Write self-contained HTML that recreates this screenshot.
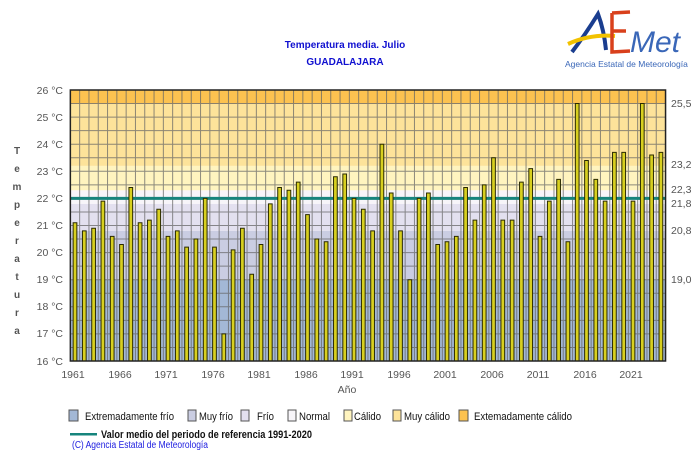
<!DOCTYPE html>
<html><head><meta charset="utf-8"><style>
body{margin:0;background:#fff;}
svg{display:block;font-family:"Liberation Sans",sans-serif;}
</style></head><body>
<svg width="700" height="451" viewBox="0 0 700 451" xmlns="http://www.w3.org/2000/svg">
<rect width="700" height="451" fill="#fff"/>
<text x="345" y="48" text-anchor="middle" font-size="10" font-weight="bold" fill="#1010d0">Temperatura media. Julio</text>
<text x="345" y="65" text-anchor="middle" font-size="10" font-weight="bold" fill="#1010d0">GUADALAJARA</text>
<!-- logo -->
<path d="M572 52 Q585 35 598 14 Q604 30 606 50" fill="none" stroke="#1a3d8f" stroke-width="4"/>
<path d="M568 44 Q590 34 615 36" fill="none" stroke="#f2c200" stroke-width="4"/>
<path d="M612 13 L630 12 M612 13 L612 52 L630 51 M612 31 L626 31" fill="none" stroke="#d9401c" stroke-width="3.5"/>
<text x="630" y="52" font-size="30" fill="#3a67b8" font-style="italic">Met</text>
<text x="565" y="67" font-size="8.5" fill="#3a67b8">Agencia Estatal de Meteorología</text>
<g transform="translate(75,361) scale(9.3,-27.1)">
<rect x="-0.5" y="0" width="64" height="3" fill="#a3b8d6"/>
<rect x="-0.5" y="3" width="64" height="1.8" fill="#cacde2"/>
<rect x="-0.5" y="4.8" width="64" height="1" fill="#e3e0ef"/>
<rect x="-0.5" y="5.8" width="64" height="0.5" fill="#f7f5f9"/>
<rect x="-0.5" y="6.3" width="64" height="0.9" fill="#fff4bf"/>
<rect x="-0.5" y="7.2" width="64" height="2.3" fill="#fde39a"/>
<rect x="-0.5" y="9.5" width="64" height="0.5" fill="#fcc250"/>
<g stroke="#666" stroke-width="1" opacity="0.75">
<path vector-effect="non-scaling-stroke" d="M-0.5 0.5H63.5M-0.5 1H63.5M-0.5 1.5H63.5M-0.5 2H63.5M-0.5 2.5H63.5M-0.5 3H63.5M-0.5 3.5H63.5M-0.5 4H63.5M-0.5 4.5H63.5M-0.5 5H63.5M-0.5 5.5H63.5M-0.5 6H63.5M-0.5 6.5H63.5M-0.5 7H63.5M-0.5 7.5H63.5M-0.5 8H63.5M-0.5 8.5H63.5M-0.5 9H63.5M-0.5 9.5H63.5"/>
<path vector-effect="non-scaling-stroke" d="M0.5 0V10M1.5 0V10M2.5 0V10M3.5 0V10M4.5 0V10M5.5 0V10M6.5 0V10M7.5 0V10M8.5 0V10M9.5 0V10M10.5 0V10M11.5 0V10M12.5 0V10M13.5 0V10M14.5 0V10M15.5 0V10M16.5 0V10M17.5 0V10M18.5 0V10M19.5 0V10M20.5 0V10M21.5 0V10M22.5 0V10M23.5 0V10M24.5 0V10M25.5 0V10M26.5 0V10M27.5 0V10M28.5 0V10M29.5 0V10M30.5 0V10M31.5 0V10M32.5 0V10M33.5 0V10M34.5 0V10M35.5 0V10M36.5 0V10M37.5 0V10M38.5 0V10M39.5 0V10M40.5 0V10M41.5 0V10M42.5 0V10M43.5 0V10M44.5 0V10M45.5 0V10M46.5 0V10M47.5 0V10M48.5 0V10M49.5 0V10M50.5 0V10M51.5 0V10M52.5 0V10M53.5 0V10M54.5 0V10M55.5 0V10M56.5 0V10M57.5 0V10M58.5 0V10M59.5 0V10M60.5 0V10M61.5 0V10M62.5 0V10"/>
</g>
<path d="M-0.5 6H63.5" stroke="#16847c" stroke-width="3" vector-effect="non-scaling-stroke"/>
<g fill="#d8d020" stroke="#2a2a00" stroke-width="1">
<rect vector-effect="non-scaling-stroke" x="-0.2" width="0.4" y="0" height="5.1"/>
<rect vector-effect="non-scaling-stroke" x="0.8" width="0.4" y="0" height="4.8"/>
<rect vector-effect="non-scaling-stroke" x="1.8" width="0.4" y="0" height="4.9"/>
<rect vector-effect="non-scaling-stroke" x="2.8" width="0.4" y="0" height="5.9"/>
<rect vector-effect="non-scaling-stroke" x="3.8" width="0.4" y="0" height="4.6"/>
<rect vector-effect="non-scaling-stroke" x="4.8" width="0.4" y="0" height="4.3"/>
<rect vector-effect="non-scaling-stroke" x="5.8" width="0.4" y="0" height="6.4"/>
<rect vector-effect="non-scaling-stroke" x="6.8" width="0.4" y="0" height="5.1"/>
<rect vector-effect="non-scaling-stroke" x="7.8" width="0.4" y="0" height="5.2"/>
<rect vector-effect="non-scaling-stroke" x="8.8" width="0.4" y="0" height="5.6"/>
<rect vector-effect="non-scaling-stroke" x="9.8" width="0.4" y="0" height="4.6"/>
<rect vector-effect="non-scaling-stroke" x="10.8" width="0.4" y="0" height="4.8"/>
<rect vector-effect="non-scaling-stroke" x="11.8" width="0.4" y="0" height="4.2"/>
<rect vector-effect="non-scaling-stroke" x="12.8" width="0.4" y="0" height="4.5"/>
<rect vector-effect="non-scaling-stroke" x="13.8" width="0.4" y="0" height="6.0"/>
<rect vector-effect="non-scaling-stroke" x="14.8" width="0.4" y="0" height="4.2"/>
<rect vector-effect="non-scaling-stroke" x="15.8" width="0.4" y="0" height="1.0"/>
<rect vector-effect="non-scaling-stroke" x="16.8" width="0.4" y="0" height="4.1"/>
<rect vector-effect="non-scaling-stroke" x="17.8" width="0.4" y="0" height="4.9"/>
<rect vector-effect="non-scaling-stroke" x="18.8" width="0.4" y="0" height="3.2"/>
<rect vector-effect="non-scaling-stroke" x="19.8" width="0.4" y="0" height="4.3"/>
<rect vector-effect="non-scaling-stroke" x="20.8" width="0.4" y="0" height="5.8"/>
<rect vector-effect="non-scaling-stroke" x="21.8" width="0.4" y="0" height="6.4"/>
<rect vector-effect="non-scaling-stroke" x="22.8" width="0.4" y="0" height="6.3"/>
<rect vector-effect="non-scaling-stroke" x="23.8" width="0.4" y="0" height="6.6"/>
<rect vector-effect="non-scaling-stroke" x="24.8" width="0.4" y="0" height="5.4"/>
<rect vector-effect="non-scaling-stroke" x="25.8" width="0.4" y="0" height="4.5"/>
<rect vector-effect="non-scaling-stroke" x="26.8" width="0.4" y="0" height="4.4"/>
<rect vector-effect="non-scaling-stroke" x="27.8" width="0.4" y="0" height="6.8"/>
<rect vector-effect="non-scaling-stroke" x="28.8" width="0.4" y="0" height="6.9"/>
<rect vector-effect="non-scaling-stroke" x="29.8" width="0.4" y="0" height="6.0"/>
<rect vector-effect="non-scaling-stroke" x="30.8" width="0.4" y="0" height="5.6"/>
<rect vector-effect="non-scaling-stroke" x="31.8" width="0.4" y="0" height="4.8"/>
<rect vector-effect="non-scaling-stroke" x="32.8" width="0.4" y="0" height="8.0"/>
<rect vector-effect="non-scaling-stroke" x="33.8" width="0.4" y="0" height="6.2"/>
<rect vector-effect="non-scaling-stroke" x="34.8" width="0.4" y="0" height="4.8"/>
<rect vector-effect="non-scaling-stroke" x="35.8" width="0.4" y="0" height="3.0"/>
<rect vector-effect="non-scaling-stroke" x="36.8" width="0.4" y="0" height="6.0"/>
<rect vector-effect="non-scaling-stroke" x="37.8" width="0.4" y="0" height="6.2"/>
<rect vector-effect="non-scaling-stroke" x="38.8" width="0.4" y="0" height="4.3"/>
<rect vector-effect="non-scaling-stroke" x="39.8" width="0.4" y="0" height="4.4"/>
<rect vector-effect="non-scaling-stroke" x="40.8" width="0.4" y="0" height="4.6"/>
<rect vector-effect="non-scaling-stroke" x="41.8" width="0.4" y="0" height="6.4"/>
<rect vector-effect="non-scaling-stroke" x="42.8" width="0.4" y="0" height="5.2"/>
<rect vector-effect="non-scaling-stroke" x="43.8" width="0.4" y="0" height="6.5"/>
<rect vector-effect="non-scaling-stroke" x="44.8" width="0.4" y="0" height="7.5"/>
<rect vector-effect="non-scaling-stroke" x="45.8" width="0.4" y="0" height="5.2"/>
<rect vector-effect="non-scaling-stroke" x="46.8" width="0.4" y="0" height="5.2"/>
<rect vector-effect="non-scaling-stroke" x="47.8" width="0.4" y="0" height="6.6"/>
<rect vector-effect="non-scaling-stroke" x="48.8" width="0.4" y="0" height="7.1"/>
<rect vector-effect="non-scaling-stroke" x="49.8" width="0.4" y="0" height="4.6"/>
<rect vector-effect="non-scaling-stroke" x="50.8" width="0.4" y="0" height="5.9"/>
<rect vector-effect="non-scaling-stroke" x="51.8" width="0.4" y="0" height="6.7"/>
<rect vector-effect="non-scaling-stroke" x="52.8" width="0.4" y="0" height="4.4"/>
<rect vector-effect="non-scaling-stroke" x="53.8" width="0.4" y="0" height="9.5"/>
<rect vector-effect="non-scaling-stroke" x="54.8" width="0.4" y="0" height="7.4"/>
<rect vector-effect="non-scaling-stroke" x="55.8" width="0.4" y="0" height="6.7"/>
<rect vector-effect="non-scaling-stroke" x="56.8" width="0.4" y="0" height="5.9"/>
<rect vector-effect="non-scaling-stroke" x="57.8" width="0.4" y="0" height="7.7"/>
<rect vector-effect="non-scaling-stroke" x="58.8" width="0.4" y="0" height="7.7"/>
<rect vector-effect="non-scaling-stroke" x="59.8" width="0.4" y="0" height="5.9"/>
<rect vector-effect="non-scaling-stroke" x="60.8" width="0.4" y="0" height="9.5"/>
<rect vector-effect="non-scaling-stroke" x="61.8" width="0.4" y="0" height="7.6"/>
<rect vector-effect="non-scaling-stroke" x="62.8" width="0.4" y="0" height="7.7"/>
</g>
<rect x="-0.5" y="0" width="64" height="10" fill="none" stroke="#222" stroke-width="1.5" vector-effect="non-scaling-stroke"/>
</g>
<g font-size="10.5" fill="#555" text-anchor="end">
<text x="63" y="94">26 °C</text><text x="63" y="121">25 °C</text><text x="63" y="148">24 °C</text><text x="63" y="175">23 °C</text><text x="63" y="202">22 °C</text><text x="63" y="229">21 °C</text><text x="63" y="256">20 °C</text><text x="63" y="283">19 °C</text><text x="63" y="310">18 °C</text><text x="63" y="337">17 °C</text><text x="63" y="365">16 °C</text>
</g>
<g font-size="10.5" fill="#555">
<text x="671" y="107">25,5</text><text x="671" y="168">23,2</text><text x="671" y="193">22,3</text><text x="671" y="207">21,8</text><text x="671" y="234">20,8</text><text x="671" y="283">19,0</text>
</g>
<g font-size="10.5" fill="#555" text-anchor="middle">
<text x="73" y="378">1961</text><text x="120" y="378">1966</text><text x="166" y="378">1971</text><text x="213" y="378">1976</text><text x="259" y="378">1981</text><text x="306" y="378">1986</text><text x="352" y="378">1991</text><text x="399" y="378">1996</text><text x="445" y="378">2001</text><text x="492" y="378">2006</text><text x="538" y="378">2011</text><text x="585" y="378">2016</text><text x="631" y="378">2021</text>
<text x="347" y="393">Año</text>
</g>
<g font-size="10" font-weight="bold" fill="#555" text-anchor="middle">
<text x="17" y="154">T</text><text x="17" y="172">e</text><text x="17" y="190">m</text><text x="17" y="208">p</text><text x="17" y="226">e</text><text x="17" y="244">r</text><text x="17" y="262">a</text><text x="17" y="280">t</text><text x="17" y="298">u</text><text x="17" y="316">r</text><text x="17" y="334">a</text>
</g>
<g font-size="11" fill="#111" stroke-width="1" stroke="#555">
<rect x="69" y="410" width="9" height="11" fill="#a3b8d6"/><text x="85" y="420" stroke="none" textLength="89" lengthAdjust="spacingAndGlyphs">Extremadamente frío</text>
<rect x="188" y="410" width="8" height="11" fill="#cacde2"/><text x="199" y="420" stroke="none" textLength="34" lengthAdjust="spacingAndGlyphs">Muy frío</text>
<rect x="241" y="410" width="8" height="11" fill="#e3e0ef"/><text x="257" y="420" stroke="none" textLength="17" lengthAdjust="spacingAndGlyphs">Frío</text>
<rect x="288" y="410" width="8" height="11" fill="#f7f5f9"/><text x="299" y="420" stroke="none" textLength="31" lengthAdjust="spacingAndGlyphs">Normal</text>
<rect x="344" y="410" width="8" height="11" fill="#fff4bf"/><text x="354" y="420" stroke="none" textLength="27" lengthAdjust="spacingAndGlyphs">Cálido</text>
<rect x="393" y="410" width="8" height="11" fill="#fde39a"/><text x="404" y="420" stroke="none" textLength="46" lengthAdjust="spacingAndGlyphs">Muy cálido</text>
<rect x="459" y="410" width="9" height="11" fill="#fcc250"/><text x="474" y="420" stroke="none" textLength="98" lengthAdjust="spacingAndGlyphs">Extemadamente cálido</text>
</g>
<rect x="70" y="433" width="27" height="2.5" fill="#16847c"/>
<text x="101" y="438" font-size="11" font-weight="bold" fill="#111" textLength="211" lengthAdjust="spacingAndGlyphs">Valor medio del periodo de referencia 1991-2020</text>
<text x="72" y="448" font-size="10" fill="#2020e0" textLength="136" lengthAdjust="spacingAndGlyphs">(C) Agencia Estatal de Meteorología</text>
</svg>
</body></html>
